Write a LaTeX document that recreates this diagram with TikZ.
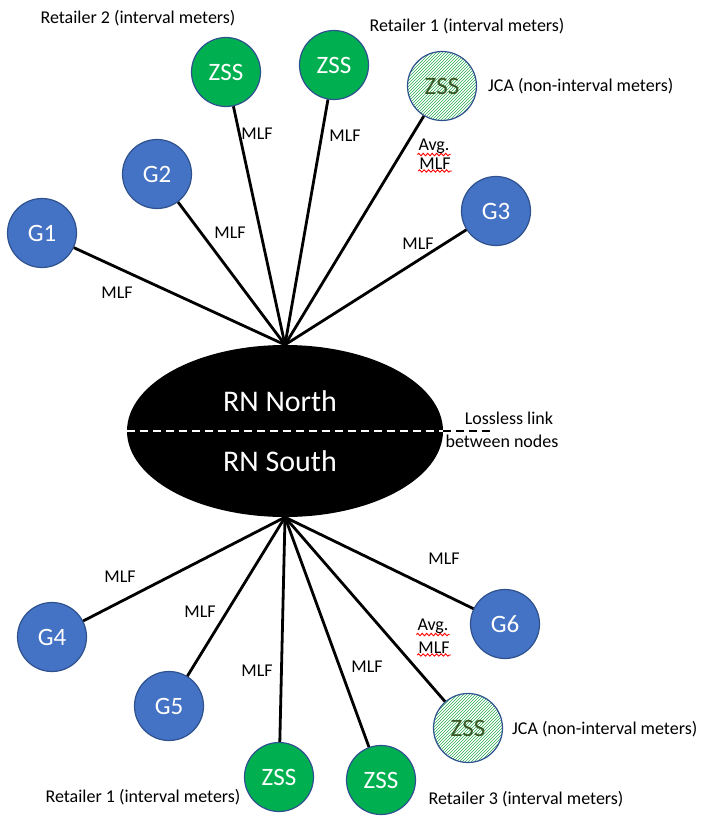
\documentclass[tikz,border=0pt]{standalone}
\usepackage{fontspec}
\setmainfont{Carlito}
\usetikzlibrary{shapes.geometric,patterns,decorations.pathmorphing}

\definecolor{genblue}{RGB}{68,114,196}
\definecolor{rimblue}{RGB}{47,82,143}
\definecolor{zssgreen}{RGB}{0,176,80}
\definecolor{hatchgreen}{RGB}{40,170,80}
\definecolor{darkgreen}{RGB}{56,87,35}

\begin{document}
\begin{tikzpicture}[
  x=1pt, y=-1pt,
  font=\fontsize{18}{20}\selectfont,
  gen/.style={
    circle,
    fill=genblue,
    draw=rimblue,
    line width=1.2pt,
    minimum size=69pt,
    inner sep=0pt,
    text=white,
    font=\fontsize{25}{27}\selectfont,
  },
  zss/.style={gen, fill=zssgreen},
  jca/.style={gen, fill=white, pattern=north east lines, pattern color=hatchgreen,
    text=darkgreen},
  link/.style={line width=2.8pt, draw=black},
  lbl/.style={inner sep=1pt},
  squiggle/.style={draw=red, line width=0.9pt,
    decorate, decoration={snake, amplitude=1.2pt, segment length=4.5pt}},
  lossless/.style={dash pattern=on 8pt off 5pt, line width=1.8pt},
]
  \useasboundingbox (0,0) rectangle (701,816);

  % --- Regional node ---
  \node[ellipse, fill=black, minimum width=316pt, minimum height=172pt] (rn) at (285,431) {};
  \node[text=white, font=\fontsize{30}{32}\selectfont] (north) at (280,401) {RN North};
  \node[text=white, font=\fontsize{30}{32}\selectfont] (south) at (280,461) {RN South};
  \coordinate (lossend) at (490,431);
  \draw[white, lossless] (rn.west) -- (rn.east);
  \draw[black, lossless] (rn.east) -- (lossend);
  \node[lbl] (loss1) at (509,418) {Lossless link};
  \node[lbl] (loss2) at (502,441) {between nodes};

  % --- North side ---
  \node[gen] (g1) at (42,233) {G1};
  \node[gen] (g2) at (157,174) {G2};
  \node[zss] (zr2) at (226,72) {ZSS};
  \node[zss] (zr1) at (334,65) {ZSS};
  \node[jca] (jn) at (442,86) {ZSS};
  \node[gen] (g3) at (496,211) {G3};

  \foreach \n in {g1, g2, zr2, zr1, jn, g3} {
    \draw[link] (rn.north) -- (\n);
  }

  \node[lbl] (ret2) at (138,18) {Retailer 2 (interval meters)};
  \node[lbl] (ret1n) at (467,26) {Retailer 1 (interval meters)};
  \node[lbl, anchor=west] (jcan) at (487,86) {JCA (non-interval meters)};

  \node[lbl] (m1) at (117,293) {MLF};
  \node[lbl] (m2) at (230,233) {MLF};
  \node[lbl] (m3) at (257,134) {MLF};
  \node[lbl] (m4) at (345,136) {MLF};
  \node[lbl] (m5) at (418,244) {MLF};
  \node[lbl] (avgn) at (434,146) {Avg.};
  \node[lbl] (avgmn) at (435,164) {MLF};
  \draw[squiggle] (avgn.south west) -- (avgn.south east);
  \draw[squiggle] (avgmn.south west) -- (avgmn.south east);

  % --- South side ---
  \node[gen] (g4) at (52,637) {G4};
  \node[gen] (g5) at (169,706) {G5};
  \node[zss] (zr1s) at (279,777) {ZSS};
  \node[zss] (zr3) at (381,780) {ZSS};
  \node[jca] (js) at (468,728) {ZSS};
  \node[gen] (g6) at (505,624) {G6};

  \foreach \n in {g4, g5, zr1s, zr3, js, g6} {
    \draw[link] (rn.south) -- (\n);
  }

  \node[lbl] (ret1s) at (143,797) {Retailer 1 (interval meters)};
  \node[lbl] (ret3) at (526,799) {Retailer 3 (interval meters)};
  \node[lbl, anchor=west] (jcas) at (511,729) {JCA (non-interval meters)};

  \node[lbl] (m6) at (120,577) {MLF};
  \node[lbl] (m7) at (200,612) {MLF};
  \node[lbl] (m8) at (257,671) {MLF};
  \node[lbl] (m9) at (367,667) {MLF};
  \node[lbl] (m10) at (444,559) {MLF};
  \node[lbl] (avgs) at (433,626) {Avg.};
  \node[lbl] (avgms) at (434,648) {MLF};
  \draw[squiggle] (avgs.south west) -- (avgs.south east);
  \draw[squiggle] (avgms.south west) -- (avgms.south east);

\end{tikzpicture}
\end{document}
